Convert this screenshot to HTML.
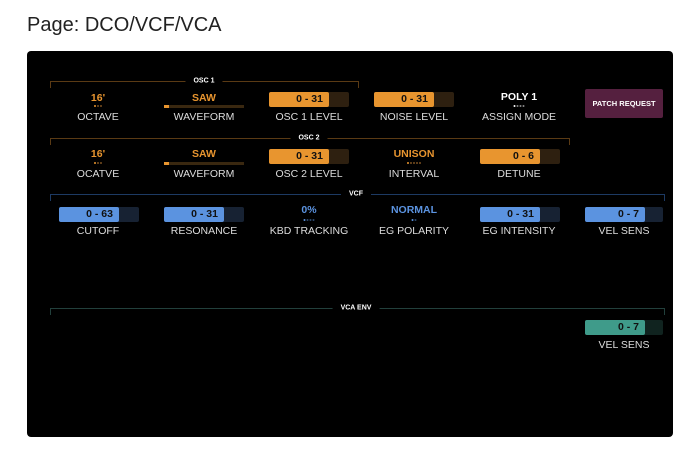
<!DOCTYPE html>
<html><head><meta charset="utf-8"><style>
body{margin:0;width:690px;height:457px;background:#fff;position:relative;overflow:hidden;font-family:"Liberation Sans",sans-serif}
.t{position:absolute;left:27px;top:14px;font-size:20px;color:#222}
.p{position:absolute;left:27px;top:51px;width:646px;height:386px;background:#000;border-radius:4px}
.a{position:absolute;transform:translateX(-50%);white-space:nowrap;text-align:center}
.lab{font-size:10.5px;color:#ddd}
.val{font-size:10.5px;font-weight:bold}
.sec{position:absolute;height:6px;border-top:1px solid;border-left:1px solid;border-right:1px solid}
.st{position:absolute;font-size:7px;font-weight:bold;color:#fff;background:#000;padding:0 8px;transform:translate(-50%,-50%)}
.sl{position:absolute;width:80px;height:15px;border-radius:2px}
.sl div{height:100%;width:60px;border-radius:2px;font-size:10.5px;font-weight:bold;color:#111;text-align:right;box-sizing:border-box;padding-right:6px;line-height:15px}
.o{background:#2e2010}.o div{background:#e8952f}
.b{background:#172233}.b div{background:#5b93e0}
.g{background:#10231f}.g div{background:#3f9b8a}
.dots{position:absolute;transform:translateX(-50%);display:flex;gap:1px;height:2px}
.dots i{display:block;width:2px;height:2px;border-radius:1px}
</style></head><body>
<div class="t">Page: DCO/VCF/VCA</div>
<div class="p"></div>
<div class="sec" style="left:50px;top:81px;width:307px;border-color:#5a3a14"></div><div class="st" style="left:204px;top:81px">OSC 1</div>
<div class="sec" style="left:50px;top:138px;width:518px;border-color:#5a3a14"></div><div class="st" style="left:309px;top:138px">OSC 2</div>
<div class="sec" style="left:50px;top:194px;width:613px;border-color:#1d3a63"></div><div class="st" style="left:356px;top:194px">VCF</div>
<div class="sec" style="left:50px;top:308px;width:613px;border-color:#22403c"></div><div class="st" style="left:356px;top:308px">VCA ENV</div>
<!-- row1 -->
<div class="a val" style="left:98px;top:92px;color:#e8952f">16'</div>
<div class="dots" style="left:98px;top:105px"><i style="background:#e8952f"></i><i style="background:#7a5020"></i><i style="background:#7a5020"></i></div>
<div class="a lab" style="left:98px;top:111px">OCTAVE</div>
<div class="a val" style="left:204px;top:92px;color:#e8952f">SAW</div>
<div style="position:absolute;left:164px;top:105px;width:80px;height:3px;background:#3a2810"><div style="width:5px;height:3px;background:#e8952f"></div></div>
<div class="a lab" style="left:204px;top:111px">WAVEFORM</div>
<div class="sl o" style="left:269px;top:92px"><div>0 - 31</div></div>
<div class="a lab" style="left:309px;top:111px">OSC 1 LEVEL</div>
<div class="sl o" style="left:374px;top:92px"><div>0 - 31</div></div>
<div class="a lab" style="left:414px;top:111px">NOISE LEVEL</div>
<div class="a val" style="left:519px;top:91px;color:#fff">POLY 1</div>
<div class="dots" style="left:519px;top:105px"><i style="background:#fff"></i><i style="background:#888"></i><i style="background:#888"></i><i style="background:#888"></i></div>
<div class="a lab" style="left:519px;top:111px">ASSIGN MODE</div>
<div style="position:absolute;left:585px;top:89px;width:78px;height:29px;background:#55203f;border-radius:2px;color:#fff;font-size:7.5px;font-weight:bold;text-align:center;line-height:29px">PATCH REQUEST</div>
<!-- row2 -->
<div class="a val" style="left:98px;top:148px;color:#e8952f">16'</div>
<div class="dots" style="left:98px;top:162px"><i style="background:#e8952f"></i><i style="background:#7a5020"></i><i style="background:#7a5020"></i></div>
<div class="a lab" style="left:98px;top:168px">OCATVE</div>
<div class="a val" style="left:204px;top:148px;color:#e8952f">SAW</div>
<div style="position:absolute;left:164px;top:162px;width:80px;height:3px;background:#3a2810"><div style="width:5px;height:3px;background:#e8952f"></div></div>
<div class="a lab" style="left:204px;top:168px">WAVEFORM</div>
<div class="sl o" style="left:269px;top:149px"><div>0 - 31</div></div>
<div class="a lab" style="left:309px;top:168px">OSC 2 LEVEL</div>
<div class="a val" style="left:414px;top:148px;color:#e8952f">UNISON</div>
<div class="dots" style="left:414px;top:162px"><i style="background:#e8952f"></i><i style="background:#7a5020"></i><i style="background:#7a5020"></i><i style="background:#7a5020"></i><i style="background:#7a5020"></i></div>
<div class="a lab" style="left:414px;top:168px">INTERVAL</div>
<div class="sl o" style="left:480px;top:149px"><div>0 - 6</div></div>
<div class="a lab" style="left:519px;top:168px">DETUNE</div>
<!-- row3 -->
<div class="sl b" style="left:59px;top:207px"><div>0 - 63</div></div>
<div class="a lab" style="left:98px;top:225px">CUTOFF</div>
<div class="sl b" style="left:164px;top:207px"><div>0 - 31</div></div>
<div class="a lab" style="left:204px;top:225px">RESONANCE</div>
<div class="a val" style="left:309px;top:204px;color:#5b93e0">0%</div>
<div class="dots" style="left:309px;top:219px"><i style="background:#5b93e0"></i><i style="background:#2e4a70"></i><i style="background:#2e4a70"></i><i style="background:#2e4a70"></i></div>
<div class="a lab" style="left:309px;top:225px">KBD TRACKING</div>
<div class="a val" style="left:414px;top:204px;color:#5b93e0">NORMAL</div>
<div class="dots" style="left:414px;top:219px"><i style="background:#5b93e0"></i><i style="background:#2e4a70"></i></div>
<div class="a lab" style="left:414px;top:225px">EG POLARITY</div>
<div class="sl b" style="left:480px;top:207px"><div>0 - 31</div></div>
<div class="a lab" style="left:519px;top:225px">EG INTENSITY</div>
<div class="sl b" style="left:585px;top:207px;width:78px"><div>0 - 7</div></div>
<div class="a lab" style="left:624px;top:225px">VEL SENS</div>
<!-- vca -->
<div class="sl g" style="left:585px;top:320px;width:78px"><div>0 - 7</div></div>
<div class="a lab" style="left:624px;top:339px">VEL SENS</div>
</body></html>
